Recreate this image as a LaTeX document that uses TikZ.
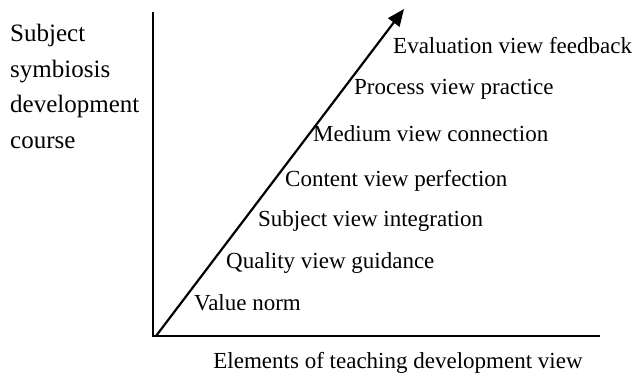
\documentclass[tikz,border=0pt]{standalone}
\usepackage{fontspec}
\setmainfont{Liberation Serif}
\usetikzlibrary{arrows.meta}
\begin{document}
\begin{tikzpicture}[x=1pt,y=-1pt,
  lbl/.style={anchor=west,inner sep=0pt,font=\fontsize{23}{27}\selectfont},
  axis/.style={line width=2pt}]
\useasboundingbox (0,0) rectangle (637,378);
\coordinate (o) at (153,336);
\coordinate (ytop) at (153,12);
\coordinate (xend) at (600,336);
\coordinate (o2) at (156,336);
\coordinate (tip) at (404,9);
\draw[axis] (ytop) -- (o) -- (xend);
\draw[line width=2.2pt,-{Triangle[length=17pt,width=14pt]}] (o2) -- (tip);
\node[lbl] (ev) at (393,46) {Evaluation view feedback};
\node[lbl] (pv) at (354,89) {Process view practice};
\node[lbl] (mv) at (313,134) {Medium view connection};
\node[lbl] (cv) at (285,181) {Content view perfection};
\node[lbl] (sv) at (258,221) {Subject view integration};
\node[lbl] (qv) at (226,263) {Quality view guidance};
\node[lbl] (vn) at (194,303) {Value norm};
\node[font=\fontsize{23}{27}\selectfont,inner sep=0pt] (xl) at (398,363) {Elements of teaching development view};
\node[lbl,anchor=north west,align=left,font=\fontsize{25}{35.5}\selectfont] (yl) at (10,24) {Subject\\symbiosis\\development\\course};
\end{tikzpicture}
\end{document}
